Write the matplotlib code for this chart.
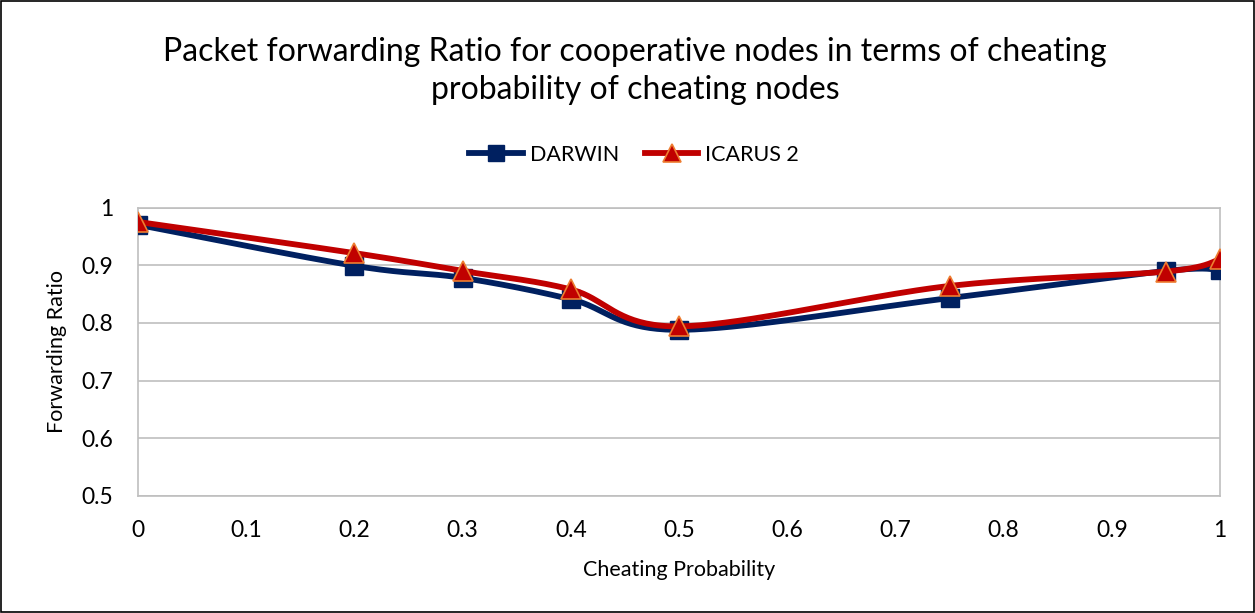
import numpy as np
import matplotlib
matplotlib.use("Agg")
import matplotlib.pyplot as plt
from matplotlib.lines import Line2D

plt.rcParams['font.family'] = ['Lato', 'DejaVu Sans']

x_vals = [0, 0.2, 0.3, 0.4, 0.5, 0.75, 0.95, 1.0]
darwin = [0.970, 0.899, 0.878, 0.841, 0.788, 0.843, 0.890, 0.892]
icarus = [0.975, 0.921, 0.890, 0.858, 0.794, 0.864, 0.889, 0.910]
x_ticks = [0, 0.1, 0.2, 0.3, 0.4, 0.5, 0.6, 0.7, 0.8, 0.9, 1]
y_ticks = [0.5, 0.6, 0.7, 0.8, 0.9, 1]
title = "Packet forwarding Ratio for cooperative nodes in terms of cheating\nprobability of cheating nodes"


def smooth(xs, ys, n=40):
    xs = np.asarray(xs, float)
    ys = np.asarray(ys, float)
    px = np.concatenate([[xs[0]], xs, [xs[-1]]])
    py = np.concatenate([[ys[0]], ys, [ys[-1]]])
    ox, oy = [], []
    t = np.linspace(0, 1, n)
    for i in range(1, len(px) - 2):
        p0 = np.array([px[i - 1], py[i - 1]])
        p1 = np.array([px[i], py[i]])
        p2 = np.array([px[i + 1], py[i + 1]])
        p3 = np.array([px[i + 2], py[i + 2]])
        c1 = p1 + (p2 - p0) / 6
        c2 = p2 - (p3 - p1) / 6
        b = ((1 - t) ** 3)[:, None] * p1 + (3 * (1 - t) ** 2 * t)[:, None] * c1 \
            + (3 * (1 - t) * t ** 2)[:, None] * c2 + (t ** 3)[:, None] * p2
        ox.extend(b[:, 0])
        oy.extend(b[:, 1])
    return np.array(ox), np.array(oy)


fig = plt.figure(figsize=(12.55, 6.13), dpi=100)
ax = fig.add_axes([138 / 1255, 1 - 496 / 613, (1220 - 138) / 1255, (496 - 207.5) / 613])

navy = '#002060'
red = '#C00000'
orange = '#ED7D31'
lw = 4.2

sx, sy = smooth(x_vals, darwin)
ax.plot(sx, sy, color=navy, lw=lw, solid_capstyle='round', zorder=3)
ax.plot(x_vals, darwin, ls='none', marker='s', ms=12.5, color=navy, mec=navy, zorder=4)
sx, sy = smooth(x_vals, icarus)
ax.plot(sx, sy, color=red, lw=lw, solid_capstyle='round', zorder=5)
ax.plot(x_vals, icarus, ls='none', marker='^', ms=14, color=red, mec=orange, mew=1.2, zorder=6)

ax.set_xlim(0, 1)
ax.set_ylim(0.5, 1)
ax.set_xticks(x_ticks)
ax.set_xticklabels([f"{v:g}" for v in x_ticks])
ax.set_yticks(y_ticks)
ax.set_yticklabels([f"{v:g}" for v in y_ticks])
ax.tick_params(length=0, labelsize=16.5, colors='black')
ax.tick_params(axis='x', pad=17)
ax.tick_params(axis='y', pad=18)
ax.grid(axis='y', color='#BFBFBF', lw=1.2)
for s in ax.spines.values():
    s.set_color('#BFBFBF')
    s.set_linewidth(1.2)
ax.set_axisbelow(True)

ax.set_xlabel("Cheating Probability", fontsize=15.5, labelpad=14)
ax.set_ylabel("Forwarding Ratio", fontsize=15.5, labelpad=10)

fig.text(0.506, 1 - 71 / 613, title, ha='center', va='center', fontsize=23, linespacing=1.35)

handles = [
    Line2D([], [], color=navy, lw=lw, marker='s', ms=12, mec=navy),
    Line2D([], [], color=red, lw=lw, marker='^', ms=13, mec=orange, mew=1.2),
]
fig.legend(handles, ["DARWIN", "ICARUS 2"], loc='center', bbox_to_anchor=(634 / 1255, 1 - 155 / 613),
           ncol=2, frameon=False, fontsize=15.5, handlelength=2.5, columnspacing=1.2, handletextpad=0.3)

border = plt.Rectangle((0.001, 0.001), 0.998, 0.998, transform=fig.transFigure, fill=False,
                       ec='black', lw=1.2)
fig.patches.append(border)

fig.savefig("out.png", dpi=100)
